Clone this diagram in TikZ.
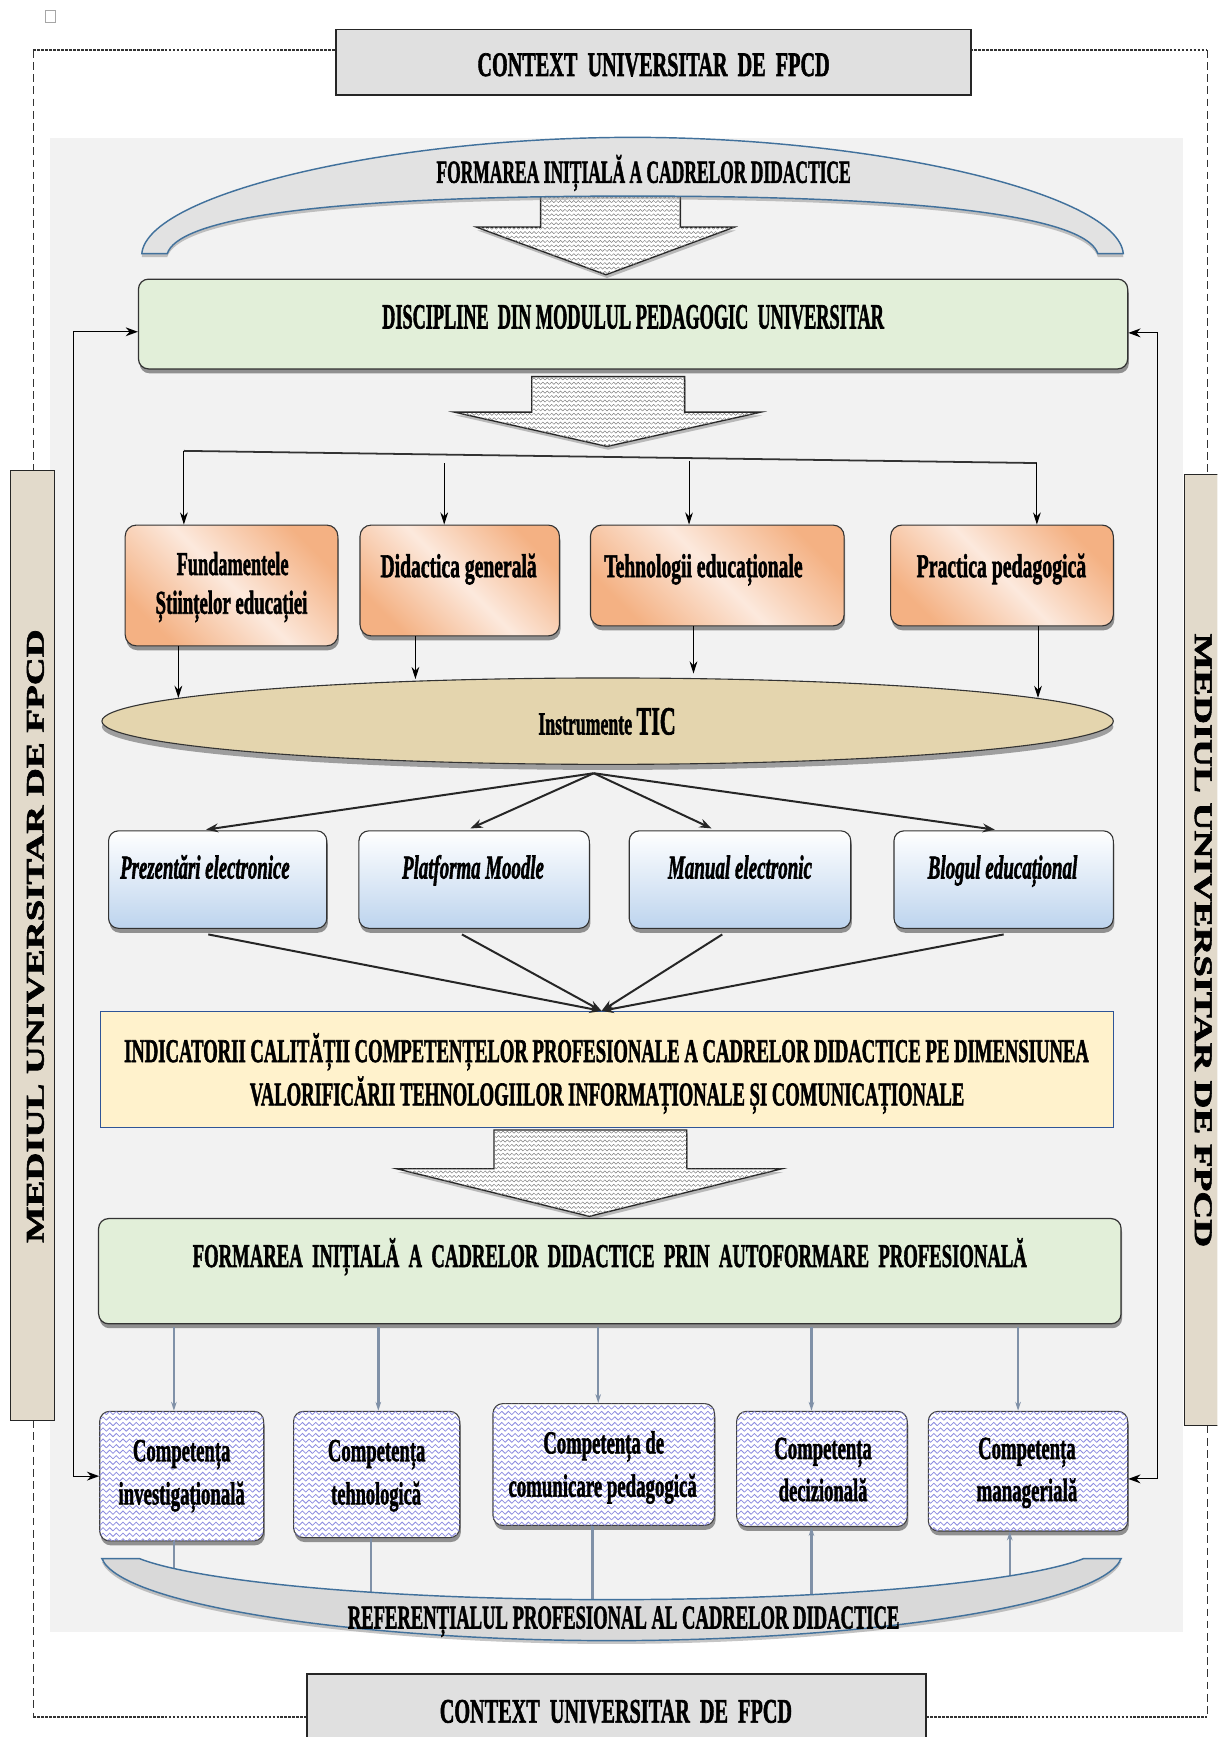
\documentclass[tikz,border=0pt]{standalone}
\usepackage{fontspec}
\setmainfont{Liberation Serif}[BoldFeatures={FakeBold=2}, BoldItalicFeatures={FakeBold=2}]
\usepackage{graphicx}
\usetikzlibrary{shapes.geometric,shadows,patterns,arrows.meta,calc}

\definecolor{panelc}{HTML}{F2F2F2}
\definecolor{greenF}{HTML}{E2EFD9}
\definecolor{oraD}{HTML}{F4B183}
\definecolor{oraL}{HTML}{FCE9DD}
\definecolor{blueB}{HTML}{BDD4EE}
\definecolor{yelF}{HTML}{FFF2CC}
\definecolor{yelB}{HTML}{2F5597}
\definecolor{tanF}{HTML}{E4D5AE}
\definecolor{sideF}{HTML}{E2DACB}
\definecolor{ctxF}{HTML}{E0E0E0}
\definecolor{ribB}{HTML}{41719C}
\definecolor{ribF}{HTML}{E2E2E2}
\definecolor{zigc}{HTML}{8C8CE0}
\definecolor{grayline}{HTML}{8091A8}

% zigzag fills
\pgfdeclarepatternformonly{zzag}{\pgfqpoint{-1pt}{-1pt}}{\pgfqpoint{7pt}{6pt}}{\pgfqpoint{6pt}{5pt}}{%
  \pgfsetlinewidth{0.7pt}%
  \pgfpathmoveto{\pgfqpoint{0pt}{1pt}}%
  \pgfpathlineto{\pgfqpoint{3pt}{4pt}}%
  \pgfpathlineto{\pgfqpoint{6pt}{1pt}}%
  \pgfusepath{stroke}%
}
\pgfdeclarepatternformonly{zzagS}{\pgfqpoint{-1pt}{-1pt}}{\pgfqpoint{5pt}{5pt}}{\pgfqpoint{4pt}{4pt}}{%
  \pgfsetlinewidth{0.45pt}%
  \pgfpathmoveto{\pgfqpoint{0pt}{1pt}}%
  \pgfpathlineto{\pgfqpoint{2pt}{3pt}}%
  \pgfpathlineto{\pgfqpoint{4pt}{1pt}}%
  \pgfusepath{stroke}%
}

% condensed bold text: width, font size, text
\newcommand\tx[3]{\resizebox{#1pt}{\height}{\fontsize{#2pt}{#2pt}\selectfont\bfseries #3}}

\tikzset{
  lbl/.style={anchor=base, inner sep=0pt, outer sep=0pt},
  boxshadow/.style={drop shadow={shadow xshift=1pt, shadow yshift=-4pt, opacity=0.55, fill=black!75}},
  greenbox/.style={draw=black!80, line width=1.1pt, fill=greenF, rounded corners=9pt, boxshadow, inner sep=0pt},
  orangebox/.style={draw=black!80, line width=1pt, rounded corners=10pt, boxshadow, inner sep=0pt,
    top color=oraD, bottom color=oraD, middle color=oraL, shading angle=-45},
  bluebox/.style={draw=black!80, line width=1pt, rounded corners=9pt, boxshadow, inner sep=0pt,
    top color=white, bottom color=blueB},
  yelbox/.style={draw=yelB, line width=0.9pt, fill=yelF, inner sep=0pt},
  compbox/.style={draw=black!75, line width=1pt, rounded corners=9pt, inner sep=0pt, boxshadow,
    fill=white, postaction={pattern=zzag, pattern color=zigc}},
  ctxbox/.style={draw=black!85, line width=1.3pt, fill=ctxF, inner sep=0pt},
  sidebox/.style={draw=black!85, line width=1pt, fill=sideF, inner sep=0pt},
  tanell/.style={ellipse, draw=black!80, line width=1pt, fill=tanF, inner sep=0pt,
    drop shadow={shadow xshift=0pt, shadow yshift=-5pt, opacity=0.5, fill=black!70}},
  bigarrow/.style={draw=black!85, line width=1.2pt, fill=white, line join=miter,
    postaction={pattern=zzagS, pattern color=black!50},
    drop shadow={shadow xshift=1pt, shadow yshift=-3pt, opacity=0.5}},
  ribbon/.style={draw=ribB, line width=1.3pt, fill=ribF,
    drop shadow={shadow xshift=0pt, shadow yshift=-3pt, opacity=0.45}},
  framedot/.style={black!80, line width=1.6pt, dash pattern=on 2.4pt off 1.2pt},
  framedash/.style={black!80, line width=0.9pt, dash pattern=on 7pt off 4pt},
  arr/.style={-{Stealth[length=11pt,width=7pt]}, line width=0.9pt, black},
  arrB/.style={-{Stealth[length=11pt,width=8pt]}, line width=1.8pt, black!85},
  thinline/.style={line width=1.6pt, black!80},
  garr/.style={-{Stealth[length=8pt,width=5pt]}, line width=2.2pt, grayline},
  gline/.style={line width=2.2pt, grayline},
  fb/.style={{Stealth[length=11pt,width=8pt]}-{Stealth[length=11pt,width=8pt]}, line width=1pt, black},
}

\begin{document}
\begin{tikzpicture}[x=1pt, y=-1pt]
\useasboundingbox (0,0) rectangle (1099,1568);
\clip (0,0) rectangle (1099,1568);
\fill[white] (0,0) rectangle (1099,1568);

% grey working panel
\fill[panelc] (45,125) rectangle (1068,1473);

% small mark in the corner
\node[draw=gray!70, line width=0.6pt, minimum width=9pt, minimum height=11pt, inner sep=0pt] (mark) at (45.5,14.5) {};

% outer dashed frame
\draw[framedot] (30,45) -- (305,45);
\draw[framedot] (876,45) -- (1090,45);
\draw[framedot] (30,1550) -- (277,1550);
\draw[framedot] (836,1550) -- (1090,1550);
\draw[framedash] (30,45) -- (30,425);
\draw[framedash] (30,1282) -- (30,1550);
\draw[framedash] (1090,45) -- (1090,428);
\draw[framedash] (1090,1287) -- (1090,1550);

% side boxes
\node[sidebox, minimum width=40pt, minimum height=857pt] (sideL) at (29.5,853.5) {};
\node[rotate=90, inner sep=0pt] (sideLt) at (32,845) {\resizebox{554pt}{\height}{\fontsize{23pt}{23pt}\selectfont\bfseries MEDIUL UNIVERSITAR DE FPCD}};
\node[sidebox, minimum width=42pt, minimum height=859pt] (sideR) at (1090,857.5) {};
\node[rotate=-90, inner sep=0pt] (sideRt) at (1086,849) {\resizebox{554pt}{\height}{\fontsize{23pt}{23pt}\selectfont\bfseries MEDIUL UNIVERSITAR DE FPCD}};

% context boxes
\node[ctxbox, minimum width=573pt, minimum height=59pt] (ctxT) at (590,56.2) {};
\node[lbl] (ctxTt) at (590,68.6) {\tx{318}{31}{CONTEXT\ \ UNIVERSITAR\ \ DE\ \ FPCD}};
\node[ctxbox, minimum width=559pt, minimum height=70pt] (ctxB) at (556.5,1546) {};
\node[lbl] (ctxBt) at (556,1555) {\tx{318}{31}{CONTEXT\ \ UNIVERSITAR\ \ DE\ \ FPCD}};

% first hollow arrow and the top ribbon
\draw[bigarrow] (488,175) -- (614,175) -- (614,205) -- (663,205) -- (547,248) -- (430,205) -- (488,205) -- cycle;
\draw[ribbon] (128,229) .. controls (133,175) and (350,124) .. (571,124)
  .. controls (792,124) and (1009,175) .. (1014,229) -- (991,229)
  .. controls (982,200) and (872,177) .. (571,177)
  .. controls (270,177) and (160,200) .. (151,229) -- cycle;
\node[lbl] (ribTt) at (581,165) {\tx{374}{29}{FORMAREA INIȚIALĂ A CADRELOR DIDACTICE}};

% pedagogical module
\node[greenbox, minimum width=893pt, minimum height=81pt] (disc) at (571.5,292.5) {};
\node[lbl] (disct) at (571.5,296.5) {\tx{453}{32}{DISCIPLINE\ \ DIN MODULUL PEDAGOGIC\ \ UNIVERSITAR}};

\draw[bigarrow] (480,340) -- (618,340) -- (618,372) -- (687,372) -- (548,403) -- (410,372) -- (480,372) -- cycle;

% disciplines
\node[orangebox, minimum width=192pt, minimum height=109pt] (o1) at (209,528.5) {};
\node[orangebox, minimum width=180pt, minimum height=100pt] (o2) at (415,524) {};
\node[orangebox, minimum width=229pt, minimum height=91pt] (o3) at (647.5,519.5) {};
\node[orangebox, minimum width=201pt, minimum height=91pt] (o4) at (904.5,519.5) {};
\node[lbl] (o1a) at (210,519) {\tx{101}{30}{Fundamentele}};
\node[lbl] (o1b) at (209,554) {\tx{137}{30}{Științelor educației}};
\node[lbl] (o2t) at (414,521) {\tx{141}{30}{Didactica generală}};
\node[lbl] (o3t) at (635,521) {\tx{179}{30}{Tehnologii educaționale}};
\node[lbl] (o4t) at (904,521) {\tx{153}{30}{Practica pedagogică}};

% branching from the module
\coordinate (brA) at (166,407);
\coordinate (brB) at (936,418);
\coordinate (br2) at (401,418);
\coordinate (br3) at (622,416);
\draw[thinline] (brA) -- (brB);
\draw[arr] (brA) -- (brA |- o1.north);
\draw[arr] (br2) -- (br2 |- o2.north);
\draw[arr] (br3) -- (br3 |- o3.north);
\draw[arr] (brB) -- (brB |- o4.north);

% ICT tools
\node[tanell, minimum width=913pt, minimum height=78pt] (ell) at (548.5,651) {};
\node[lbl] (ellt) at (548,663) {\tx{124}{29}{Instrumente {\fontsize{36pt}{36pt}\selectfont TIC}}};

\coordinate (e1) at (161,630);
\coordinate (e2) at (375,613);
\coordinate (e3) at (626,608);
\coordinate (e4) at (937,630);
\draw[arr] (o1.south -| e1) -- (e1);
\draw[arr] (o2.south -| e2) -- (e2);
\draw[arr] (o3.south -| e3) -- (e3);
\draw[arr] (o4.south -| e4) -- (e4);

% digital resources
\node[bluebox, minimum width=197pt, minimum height=88pt] (b1) at (196.5,794) {};
\node[bluebox, minimum width=208pt, minimum height=88pt] (b2) at (428,794) {};
\node[bluebox, minimum width=200pt, minimum height=88pt] (b3) at (668,794) {};
\node[bluebox, minimum width=198pt, minimum height=88pt] (b4) at (906,794) {};
\node[lbl] (b1t) at (185,793) {\tx{153}{30}{\itshape Prezentări electronice}};
\node[lbl] (b2t) at (427,793) {\tx{128}{30}{\itshape Platforma Moodle}};
\node[lbl] (b3t) at (668,793) {\tx{130}{30}{\itshape Manual electronic}};
\node[lbl] (b4t) at (905,793) {\tx{135}{30}{\itshape Blogul educațional}};

\coordinate (hub) at (536,698);
\coordinate (t1) at (182,0);
\coordinate (t2) at (421,0);
\coordinate (t3) at (646,0);
\coordinate (t4) at (902,0);
\draw[arrB, shorten >=4pt] (hub) -- (b1.north -| t1);
\draw[arrB, shorten >=4pt] (hub) -- (b2.north -| t2);
\draw[arrB, shorten >=4pt] (hub) -- (b3.north -| t3);
\draw[arrB, shorten >=4pt] (hub) -- (b4.north -| t4);

% quality indicators
\node[yelbox, minimum width=914pt, minimum height=105pt] (ind) at (548,965.5) {};
\node[lbl] (inda) at (547.5,958.7) {\tx{871}{30}{INDICATORII CALITĂȚII COMPETENȚELOR PROFESIONALE A CADRELOR DIDACTICE PE DIMENSIUNEA}};
\node[lbl] (indb) at (548,997.8) {\tx{645}{30}{VALORIFICĂRII TEHNOLOGIILOR INFORMAȚIONALE ȘI COMUNICAȚIONALE}};

\coordinate (indIn) at ([xshift=-5pt]ind.north);
\draw[arrB] ([xshift=-8.5pt, yshift=-5pt]b1.south) -- (indIn);
\draw[arrB] ([xshift=-11pt, yshift=-5pt]b2.south) -- (indIn);
\draw[arrB] ([xshift=-16pt, yshift=-5pt]b3.south) -- (indIn);
\draw[arrB] ([yshift=-5pt]b4.south) -- (indIn);

\draw[bigarrow] (446,1020) -- (620,1020) -- (620,1055) -- (706,1055) -- (532,1098) -- (358,1055) -- (446,1055) -- cycle;

% self-training
\node[greenbox, minimum width=923pt, minimum height=95pt] (auto) at (550.5,1147.5) {};
\node[lbl] (autot) at (550.5,1143.7) {\tx{753}{30}{FORMAREA\ \ INIȚIALĂ\ \ A\ \ CADRELOR\ \ DIDACTICE\ \ PRIN\ \ AUTOFORMARE\ \ PROFESIONALĂ}};

% competences
\node[compbox, minimum width=148pt, minimum height=117pt] (c1) at (164,1332.5) {};
\node[compbox, minimum width=150pt, minimum height=114pt] (c2) at (340,1331) {};
\node[compbox, minimum width=200pt, minimum height=110pt] (c3) at (545,1322) {};
\node[compbox, minimum width=154pt, minimum height=104pt] (c4) at (742,1326) {};
\node[compbox, minimum width=180pt, minimum height=108pt] (c5) at (928,1328) {};
\node[lbl] (c1a) at (164,1319) {\tx{88}{29}{Competența}};
\node[lbl] (c1b) at (164,1358) {\tx{114}{29}{investigațională}};
\node[lbl] (c2a) at (340,1319) {\tx{88}{29}{Competența}};
\node[lbl] (c2b) at (339.5,1358) {\tx{81}{29}{tehnologică}};
\node[lbl] (c3a) at (545,1312) {\tx{109}{29}{Competența de}};
\node[lbl] (c3b) at (544,1351) {\tx{170}{29}{comunicare pedagogică}};
\node[lbl] (c4a) at (743,1317) {\tx{88}{29}{Competența}};
\node[lbl] (c4b) at (743,1355) {\tx{80}{29}{decizională}};
\node[lbl] (c5a) at (927,1317) {\tx{88}{29}{Competența}};
\node[lbl] (c5b) at (927,1355) {\tx{91}{29}{managerială}};

\coordinate (g1) at (157,0);
\coordinate (g2) at (341.5,0);
\coordinate (g3) at (540,0);
\coordinate (g4) at (732.5,0);
\coordinate (g5) at (919,0);
\draw[garr] ([yshift=-2pt]auto.south -| g1) -- (c1.north -| g1);
\draw[garr] ([yshift=-2pt]auto.south -| g2) -- (c2.north -| g2);
\draw[garr] ([yshift=-2pt]auto.south -| g3) -- (c3.north -| g3);
\draw[garr] ([yshift=-2pt]auto.south -| g4) -- (c4.north -| g4);
\draw[garr] ([yshift=-2pt]auto.south -| g5) -- (c5.north -| g5);

% links to the professional standard
\coordinate (r1) at (157,1430);
\coordinate (r2) at (335,1450);
\coordinate (r3) at (535,1455);
\coordinate (r4) at (732.5,1450);
\coordinate (r5) at (911.5,1440);
\draw[gline] (c1.south -| r1) -- (r1);
\draw[gline] (c2.south -| r2) -- (r2);
\draw[gline] (c3.south -| r3) -- (r3);
\draw[garr] (r4) -- (c4.south -| r4);
\draw[garr] (r5) -- (c5.south -| r5);

% bottom ribbon
\draw[ribbon, fill=black!15] (92,1407) .. controls (110,1450) and (330,1481) .. (552,1481)
  .. controls (774,1481) and (994,1450) .. (1012,1407) -- (978,1407)
  .. controls (924,1428) and (754,1444) .. (552,1444)
  .. controls (350,1444) and (180,1428) .. (126,1407) -- cycle;
\node[lbl] (ribBt) at (563,1470) {\tx{498}{30}{REFERENȚIALUL PROFESIONAL AL CADRELOR DIDACTICE}};

% feedback loops
\coordinate (fbL) at (66,0);
\coordinate (fbR) at (1045,0);
\coordinate (dW) at ([yshift=-7pt]disc.west);
\coordinate (dE) at ([yshift=-8pt]disc.east);
\coordinate (c5E) at ([yshift=-7pt]c5.east);
\draw[fb] (dW) -- (dW -| fbL) -- (c1.west -| fbL) -- (c1.west);
\draw[fb] (dE) -- (dE -| fbR) -- (c5E -| fbR) -- (c5E);

\end{tikzpicture}
\end{document}
